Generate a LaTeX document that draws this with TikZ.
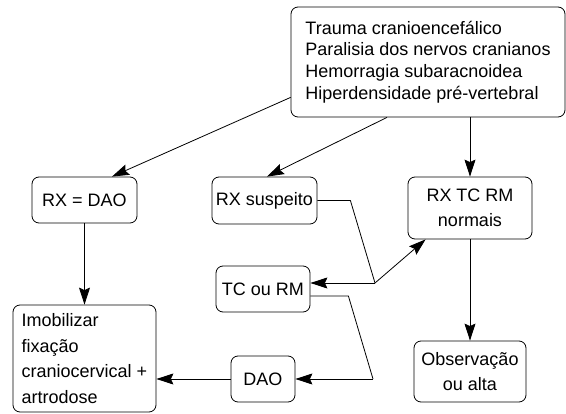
\documentclass[tikz,border=0pt]{standalone}
\usepackage{fontspec}
\setmainfont{Liberation Sans}
\usetikzlibrary{arrows.meta,calc}
\begin{document}
\begin{tikzpicture}[x=1pt,y=-1pt,
  box/.style={draw,line width=0.8pt,rounded corners=7pt,inner sep=0pt,
    font=\fontsize{18}{25.5}\selectfont,align=center},
  conn/.style={line width=0.8pt},
  arr/.style={conn,-{Stealth[length=17pt,width=11pt,inset=2.5pt]}}]
\useasboundingbox (0,0) rectangle (566,414);
\node[box,minimum width=274pt,minimum height=110pt,align=left,
  font=\fontsize{18}{21.7}\selectfont] (top) at (428,62)
  {Trauma cranioencefálico\\Paralisia dos nervos cranianos\\Hemorragia subaracnoidea\\Hiperdensidade pré-vertebral};
\node[box,minimum width=105pt,minimum height=46pt] (rxdao) at (84.5,200) {RX = DAO};
\node[box,minimum width=105pt,minimum height=47pt] (rxs) at (264.5,200.5) {RX suspeito};
\node[box,minimum width=124pt,minimum height=62pt] (rxtc) at (470,208) {RX TC RM\\normais};
\node[box,minimum width=94pt,minimum height=46pt] (tc) at (263,289) {TC ou RM};
\node[box,minimum width=143pt,minimum height=107pt,align=left] (imob) at (84.5,358.5)
  {Imobilizar\\fixação\\craniocervical +\\artrodose};
\node[box,minimum width=64pt,minimum height=46pt] (dao) at (263,379) {DAO};
\node[box,minimum width=112pt,minimum height=61pt] (obs) at (470,371.5) {Observação\\ou alta};
\coordinate (j1) at (375,283);
\coordinate (j2) at (373,379);
\draw[arr] ($(top.south west)+(0,-20)$) -- ($(rxdao.north)+(27.5,0)$);
\draw[arr] ($(top.south)+(-41,0)$) -- ($(rxs.north)+(2.5,0)$);
\draw[arr] (rxtc.north |- top.south) -- (rxtc.north);
\draw[conn] (rxs.east) -- ++(33,0) -- (j1);
\draw[arr] (j1) -- (tc.east |- j1);
\draw[arr] (j1) -- ($(rxtc.south west)+(18,0)$);
\draw[conn] ($(tc.east)+(0,7)$) -- ++(38,0) -- (j2);
\draw[arr] (j2) -- (dao.east);
\draw[arr] (dao.west) -- (imob.east |- dao.west);
\draw[arr] (rxdao.south) -- (imob.north);
\draw[arr] (rxtc.south) -- (obs.north);
\end{tikzpicture}
\end{document}
